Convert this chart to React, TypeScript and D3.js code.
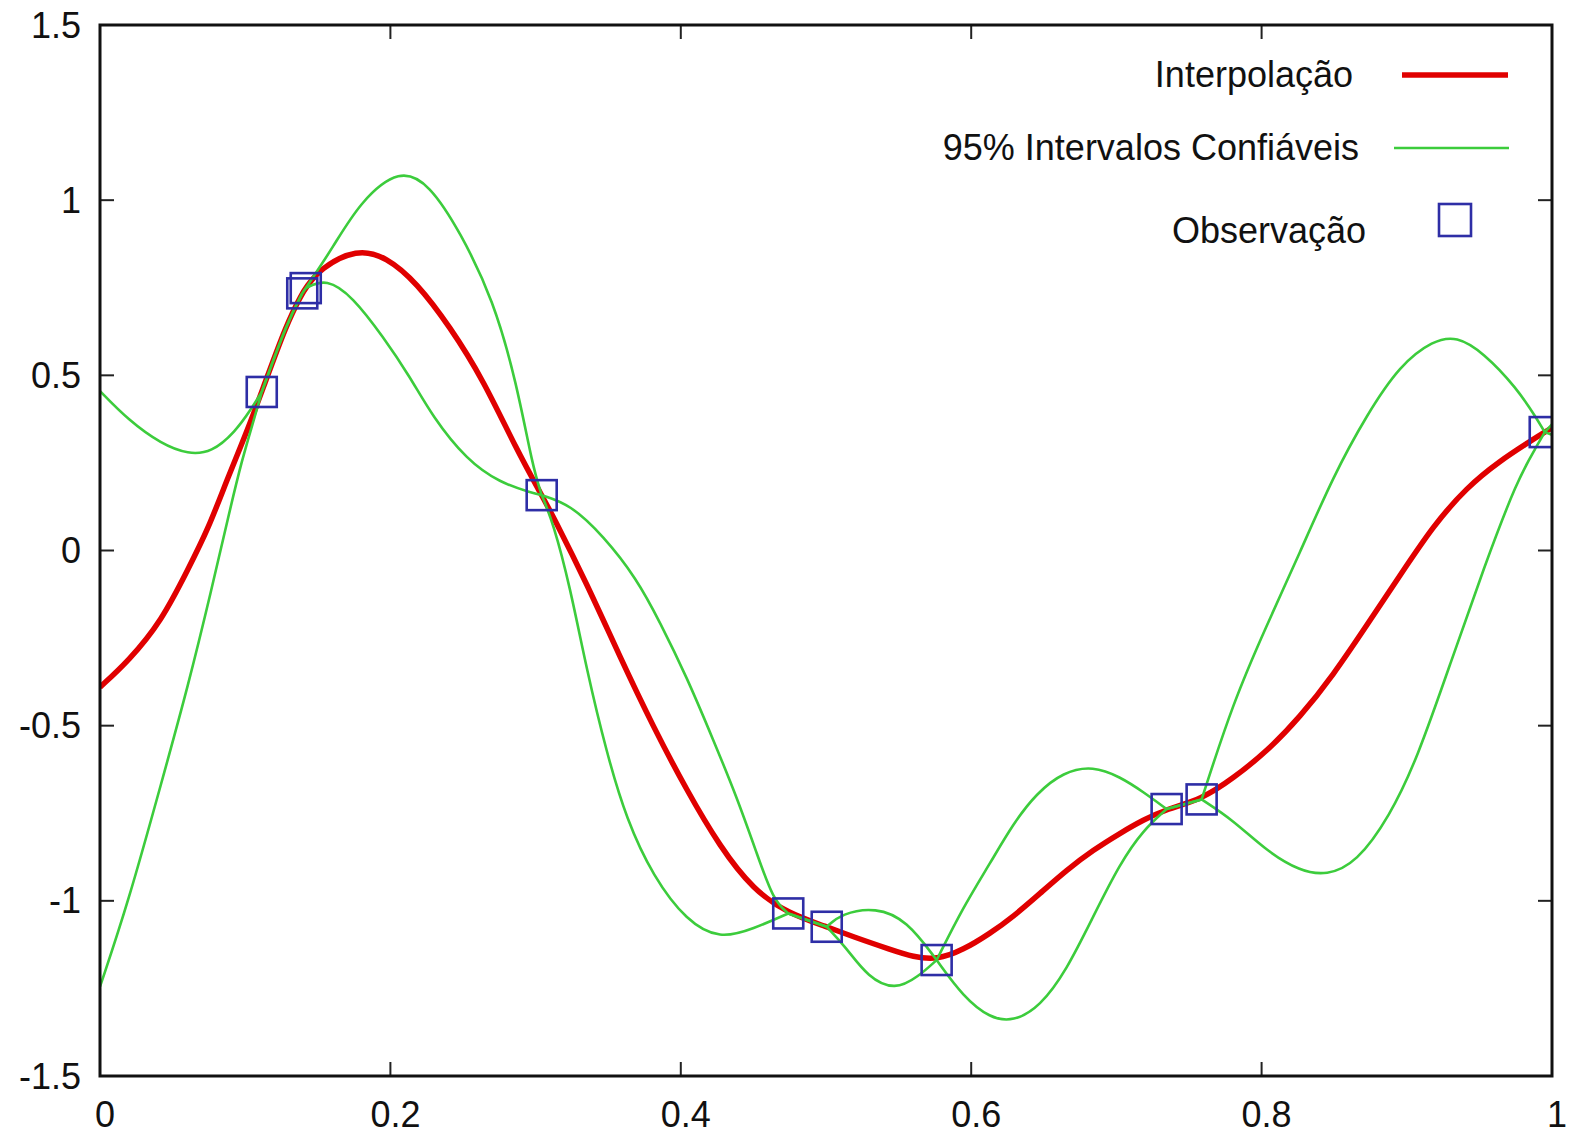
import React from "react";
import * as d3 from "d3";

// observações (quadrados azuis)
const obsX = [0.1114, 0.1393, 0.1417, 0.3042, 0.474, 0.5005, 0.5762, 0.7346, 0.7587, 0.995];
const obsY = [0.4525, 0.734, 0.749, 0.158, -1.036, -1.074, -1.169, -0.738, -0.7105, 0.338];

// interpolação (curva vermelha)
const redX = [0, 0.0195, 0.0425, 0.0608, 0.0746, 0.0884, 0.0999, 0.1114, 0.1286, 0.1393, 0.1417,
  0.1515, 0.1768, 0.1974, 0.218, 0.241, 0.264, 0.287, 0.3042, 0.3122, 0.3352, 0.358, 0.381,
  0.404, 0.427, 0.45, 0.474, 0.5005, 0.5186, 0.545, 0.56, 0.5762, 0.5946, 0.613, 0.629,
  0.6474, 0.6657, 0.684, 0.7025, 0.7185, 0.7346, 0.7587, 0.7805, 0.8035, 0.8264, 0.8494,
  0.8724, 0.8953, 0.9182, 0.9412, 0.9642, 0.9848, 0.995, 1];
const redY = [-0.39, -0.316, -0.201, -0.052, 0.062, 0.212, 0.326, 0.4525, 0.6486, 0.734, 0.749,
  0.805, 0.862, 0.838, 0.765, 0.639, 0.487, 0.287, 0.158, 0.0965, -0.094, -0.303, -0.503,
  -0.684, -0.846, -0.969, -1.036, -1.074, -1.1025, -1.14, -1.16, -1.169, -1.14, -1.093, -1.045,
  -0.979, -0.912, -0.855, -0.807, -0.769, -0.738, -0.7105, -0.65, -0.574, -0.4756, -0.3555,
  -0.2135, -0.0714, 0.0705, 0.18, 0.256, 0.311, 0.338, 0.35];

// limite superior do intervalo de 95%
const upX = [0, 0.0195, 0.0425, 0.0608, 0.0769, 0.093, 0.1045, 0.1114, 0.1286, 0.1393, 0.1417,
  0.1607, 0.179, 0.2066, 0.227, 0.248, 0.271, 0.287, 0.298, 0.3042, 0.3237, 0.3466, 0.3696,
  0.3857, 0.404, 0.4224, 0.4385, 0.4523, 0.4637, 0.474, 0.5005, 0.5107, 0.5344, 0.5555, 0.5762,
  0.5946, 0.613, 0.629, 0.645, 0.6634, 0.684, 0.7025, 0.7185, 0.7346, 0.7587, 0.7805, 0.8035,
  0.8264, 0.8494, 0.8724, 0.8953, 0.9182, 0.9344, 0.9527, 0.9757, 0.9895, 0.995, 1];
const upY = [0.455, 0.372, 0.303, 0.2746, 0.28, 0.338, 0.406, 0.4525, 0.6486, 0.734, 0.749,
  0.867, 0.995, 1.092, 1.045, 0.91, 0.715, 0.477, 0.239, 0.158, 0.132, 0.042, -0.08,
  -0.205, -0.36, -0.541, -0.703, -0.864, -0.998, -1.036, -1.074, -1.036, -1.018, -1.055, -1.169,
  -1.017, -0.893, -0.779, -0.693, -0.632, -0.615, -0.646, -0.689, -0.738, -0.7105, -0.432, -0.2135,
  -0.006, 0.2127, 0.387, 0.5296, 0.6, 0.612, 0.565, 0.464, 0.3765, 0.338, 0.33];

// limite inferior do intervalo de 95%
const lowX = [0, 0.0195, 0.0425, 0.0608, 0.0769, 0.0884, 0.0976, 0.1067, 0.1114, 0.1286, 0.1393,
  0.1417, 0.156, 0.174, 0.195, 0.2135, 0.229, 0.2526, 0.2755, 0.298, 0.3042, 0.3122, 0.3237,
  0.3352, 0.349, 0.3627, 0.381, 0.404, 0.427, 0.45, 0.474, 0.5005, 0.5134, 0.5292, 0.5476,
  0.5634, 0.5762, 0.5946, 0.613, 0.629, 0.6474, 0.6657, 0.684, 0.7025, 0.7185, 0.7346, 0.7587,
  0.7805, 0.8035, 0.8264, 0.8448, 0.8655, 0.888, 0.907, 0.93, 0.953, 0.976, 0.9898, 0.995, 1];
const lowY = [-1.245, -1.004, -0.66, -0.385, -0.11, 0.097, 0.257, 0.383, 0.4525, 0.6486, 0.734,
  0.749, 0.777, 0.7245, 0.61, 0.496, 0.382, 0.258, 0.193, 0.164, 0.158, 0.078, -0.103,
  -0.341, -0.579, -0.769, -0.931, -1.058, -1.11, -1.08, -1.036, -1.074, -1.131, -1.22, -1.255,
  -1.217, -1.169, -1.274, -1.335, -1.345, -1.302, -1.198, -1.045, -0.893, -0.798, -0.738, -0.7105,
  -0.77, -0.858, -0.915, -0.928, -0.8907, -0.76, -0.596, -0.3226, -0.05, 0.2015, 0.3, 0.338, 0.36];

const xTicks = [0, 0.2, 0.4, 0.6, 0.8, 1];
const yTicks = [-1.5, -1, -0.5, 0, 0.5, 1, 1.5];
const legendLabels = ["Interpolação", "95% Intervalos Confiáveis", "Observação"];

const W = 1576;
const H = 1134;
const left = 100, right = 1552, top = 25, bottom = 1076;
const font = "'Liberation Sans', Arial, Helvetica, sans-serif";
const RED = "#e00000";
const GREEN = "#3ccc3c";
const BLUE = "#2e2ea6";

export default function App() {
  const x = d3.scaleLinear().domain([0, 1]).range([left, right]);
  const y = d3.scaleLinear().domain([-1.5, 1.5]).range([bottom, top]);

  const line = d3.line<[number, number]>()
    .x((d) => x(d[0]))
    .y((d) => y(d[1]))
    .curve(d3.curveBasis);

  const red: [number, number][] = redX.map((v, i) => [v, redY[i]]);
  const up: [number, number][] = upX.map((v, i) => [v, upY[i]]);
  const low: [number, number][] = lowX.map((v, i) => [v, lowY[i]]);

  // as bandas têm "bico" em cada observação, então cada trecho é desenhado separado
  const breaks = [0, ...obsX, 1];
  const pieces = (pts: [number, number][]) => {
    const out: [number, number][][] = [];
    for (let i = 0; i < breaks.length - 1; i++) {
      const a = breaks[i], b = breaks[i + 1];
      const seg = pts.filter((p) => p[0] >= a - 1e-9 && p[0] <= b + 1e-9);
      if (seg.length >= 2) out.push(seg);
    }
    return out;
  };

  const tl = 14;

  return (
    <svg width={W} height={H} style={{ position: "absolute", left: 0, top: 0, background: "#fff" }}>
      <defs>
        <clipPath id="plot">
          <rect x={left} y={top} width={right - left} height={bottom - top} />
        </clipPath>
      </defs>
      <rect x={0} y={0} width={W} height={H} fill="#fff" />

      {/* ticks, espelhados nos quatro lados */}
      <g stroke="#222" strokeWidth={2}>
        {xTicks.map((t) => (
          <g key={"xt" + t}>
            <line x1={x(t)} x2={x(t)} y1={bottom} y2={bottom - tl} />
            <line x1={x(t)} x2={x(t)} y1={top} y2={top + tl} />
          </g>
        ))}
        {yTicks.map((t) => (
          <g key={"yt" + t}>
            <line x1={left} x2={left + tl} y1={y(t)} y2={y(t)} />
            <line x1={right} x2={right - tl} y1={y(t)} y2={y(t)} />
          </g>
        ))}
      </g>

      <g fontFamily={font} fontSize={36} fill="#111">
        {xTicks.map((t) => (
          <text key={"xl" + t} x={x(t) + 5} y={1127} textAnchor="middle">{String(t)}</text>
        ))}
        {yTicks.map((t) => (
          <text key={"yl" + t} x={81} y={y(t)} dy="0.35em" textAnchor="end">{String(t)}</text>
        ))}
      </g>

      <g clipPath="url(#plot)" fill="none">
        <path d={line(red) || ""} stroke={RED} strokeWidth={5.5} strokeLinejoin="round" />
        {[...pieces(up), ...pieces(low)].map((seg, i) => (
          <path key={"g" + i} d={line(seg) || ""} stroke={GREEN} strokeWidth={2.6} />
        ))}
        {obsX.map((v, i) => (
          <rect key={"o" + i} x={x(v) - 15} y={y(obsY[i]) - 15} width={30} height={30}
            stroke={BLUE} strokeWidth={2.6} fill="none" />
        ))}
      </g>

      {/* legenda */}
      <g fontFamily={font} fontSize={36} fill="#111" textAnchor="end">
        <text x={1353} y={87}>{legendLabels[0]}</text>
        <text x={1359} y={160}>{legendLabels[1]}</text>
        <text x={1366} y={243}>{legendLabels[2]}</text>
      </g>
      <line x1={1402} x2={1508} y1={75} y2={75} stroke={RED} strokeWidth={5.5} />
      <line x1={1394} x2={1509} y1={148} y2={148} stroke={GREEN} strokeWidth={2.6} />
      <rect x={1439} y={204} width={32} height={32} stroke={BLUE} strokeWidth={2.6} fill="none" />

      <rect x={left} y={top} width={right - left} height={bottom - top}
        fill="none" stroke="#111" strokeWidth={3} />
    </svg>
  );
}
